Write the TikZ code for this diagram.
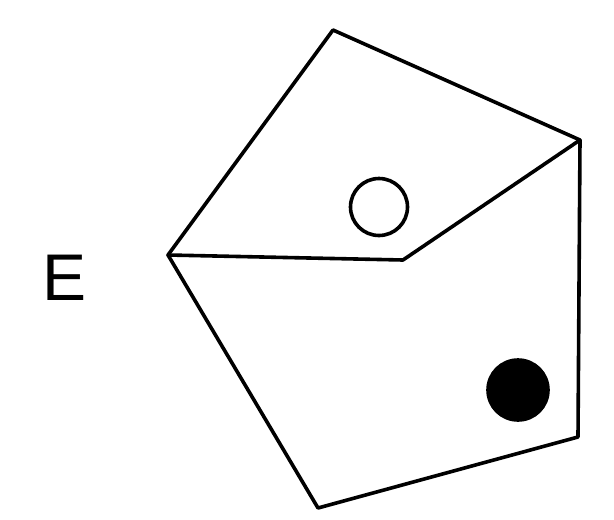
\documentclass[tikz,border=0pt]{standalone}
\usepackage{fontspec}
\setmainfont{Liberation Sans}
\begin{document}
\begin{tikzpicture}[x=1pt,y=-1pt,
  edge/.style={line width=3.6pt,line join=round,line cap=round},
  dot/.style={circle,draw,line width=3.6pt,minimum size=57pt,inner sep=0pt}]
\useasboundingbox (0,0) rectangle (614,520);
\coordinate (T) at (333,30);
\coordinate (R) at (580,140);
\coordinate (BR) at (578,437);
\coordinate (B) at (318,508);
\coordinate (L) at (168,255);
\coordinate (M) at (403,260);
\draw[edge] (T) -- (R) -- (BR) -- (B) -- (L) -- cycle;
\draw[edge] (L) -- (M) -- (R);
\node[dot] (open) at (379,207) {};
\node[dot,fill=black,minimum size=60pt] (filled) at (518,390) {};
\node[font=\fontsize{66}{70}\selectfont] (E) at (65,278) {E};
\end{tikzpicture}
\end{document}
